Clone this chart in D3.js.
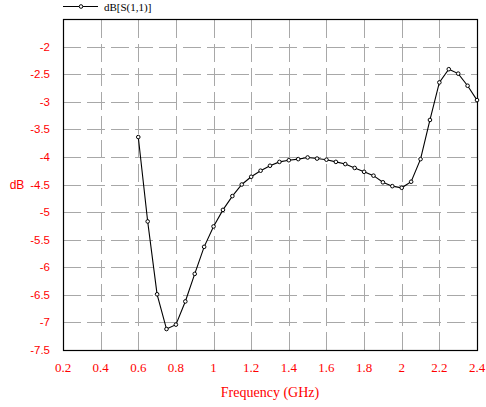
<!DOCTYPE html>
<html>
<head>
<meta charset="utf-8">
<script src="https://cdn.jsdelivr.net/npm/d3@7"></script>
<style>
  body { margin: 0; background: #fff; }
  svg { display: block; }
</style>
</head>
<body>
<svg id="chart" width="486" height="407"></svg>
<script>
// frequency points (GHz) and S11 in dB
var freqs = [0.6, 0.65, 0.7, 0.75, 0.8, 0.85, 0.9, 0.95, 1.0, 1.05, 1.1, 1.15, 1.2, 1.25,
    1.3, 1.35, 1.4, 1.45, 1.5, 1.55, 1.6, 1.65, 1.7, 1.75, 1.8, 1.85, 1.9, 1.95, 2.0,
    2.05, 2.1, 2.15, 2.2, 2.25, 2.3, 2.35, 2.4];
var s11 = [-3.64, -5.17, -6.49, -7.12, -7.04, -6.62, -6.12, -5.63, -5.26, -4.96, -4.71, -4.5, -4.36, -4.25,
    -4.16, -4.09, -4.06, -4.04, -4.01, -4.03, -4.05, -4.09, -4.13, -4.2, -4.27, -4.34, -4.46, -4.53, -4.56,
    -4.45, -4.04, -3.33, -2.65, -2.41, -2.49, -2.71, -2.97];
var xTicks = [0.2, 0.4, 0.6, 0.8, 1, 1.2, 1.4, 1.6, 1.8, 2, 2.2, 2.4];
var yTicks = [-2, -2.5, -3, -3.5, -4, -4.5, -5, -5.5, -6, -6.5, -7, -7.5];
var seriesName = "dB[S(1,1)]";

var svg = d3.select("#chart"),
    plotLeft = 63, plotRight = 477, plotTop = 19, plotBottom = 350;

var xScale = d3.scaleLinear().domain([0.2, 2.4]).range([plotLeft, plotRight]),
    yScale = d3.scaleLinear().domain([-7.5, -1.5]).range([plotBottom, plotTop]);

var red = "#ff0000";

// grid (dashes run from the bottom up and from the left across)
var grid = svg.append("g")
    .attr("stroke", "#a8a8a8")
    .attr("stroke-width", 1)
    .attr("stroke-dasharray", "18,6");

grid.selectAll(".vg")
    .data(xTicks.slice(1, -1))
    .enter().append("line")
    .attr("x1", function (d) { return Math.round(xScale(d)) + 0.5; })
    .attr("x2", function (d) { return Math.round(xScale(d)) + 0.5; })
    .attr("y1", plotBottom)
    .attr("y2", plotTop);

grid.selectAll(".hg")
    .data(yTicks.slice(0, -1))
    .enter().append("line")
    .attr("y1", function (d) { return Math.round(yScale(d)) + 0.5; })
    .attr("y2", function (d) { return Math.round(yScale(d)) + 0.5; })
    .attr("x1", plotLeft)
    .attr("x2", plotRight);

// frame
svg.append("rect")
    .attr("x", plotLeft + 0.5)
    .attr("y", plotTop + 0.5)
    .attr("width", plotRight - plotLeft)
    .attr("height", plotBottom - plotTop)
    .attr("fill", "none")
    .attr("stroke", "#000")
    .attr("stroke-width", 1.2);

// x tick labels
svg.append("g").selectAll("text")
    .data(xTicks)
    .enter().append("text")
    .attr("x", function (d) { return xScale(d); })
    .attr("y", 372)
    .attr("text-anchor", "middle")
    .attr("fill", red)
    .style("font-family", "'Liberation Serif', serif")
    .style("font-size", "13px")
    .text(function (d) { return d; });

// y tick labels
svg.append("g").selectAll("text")
    .data(yTicks)
    .enter().append("text")
    .attr("x", 50)
    .attr("y", function (d) { return yScale(d); })
    .attr("dy", "0.35em")
    .attr("text-anchor", "end")
    .attr("fill", red)
    .style("font-family", "'Liberation Sans', sans-serif")
    .style("font-size", "11.5px")
    .text(function (d) { return d; });

svg.append("text")
    .attr("x", 17)
    .attr("y", yScale(-4.5))
    .attr("dy", "0.35em")
    .attr("text-anchor", "middle")
    .attr("fill", red)
    .style("font-family", "'Liberation Sans', sans-serif")
    .style("font-size", "12px")
    .text("dB");

svg.append("text")
    .attr("x", (plotLeft + plotRight) / 2)
    .attr("y", 397)
    .attr("text-anchor", "middle")
    .attr("fill", red)
    .style("font-family", "'Liberation Serif', serif")
    .style("font-size", "14px")
    .text("Frequency (GHz)");

// series
var data = freqs.map(function (f, i) { return { f: f, v: s11[i] }; });

var line = d3.line()
    .x(function (d) { return xScale(d.f); })
    .y(function (d) { return yScale(d.v); });

svg.append("path")
    .datum(data)
    .attr("d", line)
    .attr("fill", "none")
    .attr("stroke", "#000")
    .attr("stroke-width", 1.1);

svg.append("g").selectAll("circle")
    .data(data)
    .enter().append("circle")
    .attr("cx", function (d) { return xScale(d.f); })
    .attr("cy", function (d) { return yScale(d.v); })
    .attr("r", 1.8)
    .attr("fill", "#fff")
    .attr("stroke", "#000")
    .attr("stroke-width", 1);

// legend
var legend = svg.append("g");
legend.append("line")
    .attr("x1", 63).attr("x2", 98)
    .attr("y1", 6.5).attr("y2", 6.5)
    .attr("stroke", "#000");
legend.append("circle")
    .attr("cx", 81).attr("cy", 6.5).attr("r", 1.8)
    .attr("fill", "#fff").attr("stroke", "#000");
legend.append("text")
    .attr("x", 104)
    .attr("y", 11)
    .attr("fill", "#000")
    .style("font-family", "'Liberation Serif', serif")
    .style("font-size", "11px")
    .text(seriesName);
</script>
</body>
</html>
